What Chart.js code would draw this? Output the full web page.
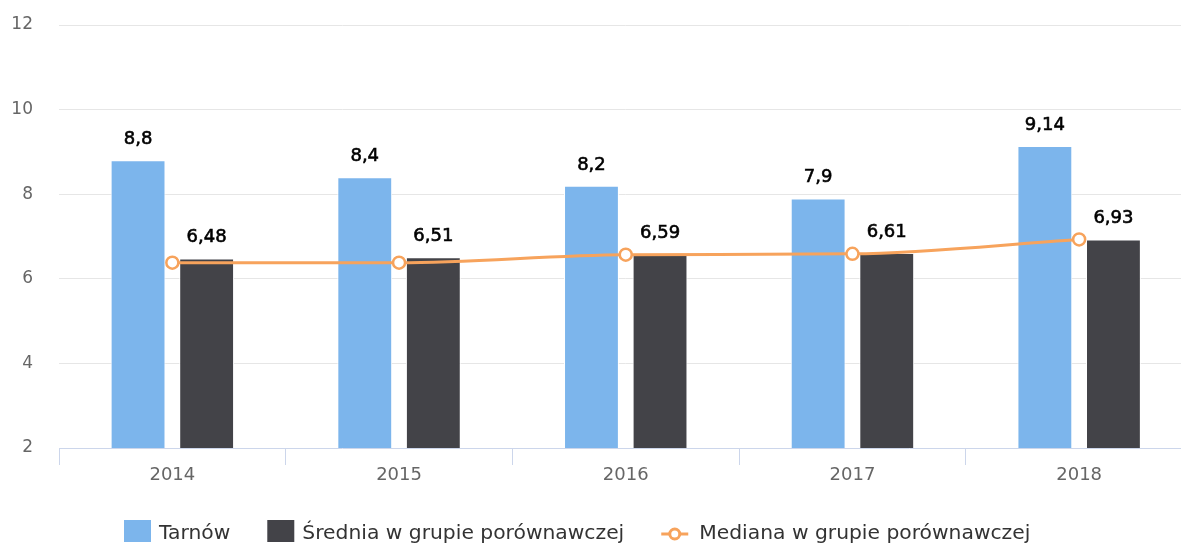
<!DOCTYPE html>
<html><head><meta charset="utf-8">
<script src="https://cdn.jsdelivr.net/npm/chart.js@4.4.0/dist/chart.umd.min.js"></script>
<style>html,body{margin:0;padding:0;overflow:hidden;background:#fff;} canvas{display:block;}</style>
</head><body>
<canvas id="c" width="1201" height="544" style="width:1201px;height:544px"></canvas>
<script>
const categories = ['2014', '2015', '2016', '2017', '2018'];
const tarnow = [8.8, 8.4, 8.2, 7.9, 9.14];
const srednia = [6.48, 6.51, 6.59, 6.61, 6.93];
const mediana = [6.38, 6.38, 6.57, 6.59, 6.93];
const seriesNames = ['Tarnów', 'Średnia w grupie porównawczej', 'Mediana w grupie porównawczej'];
const yTicks = [2, 4, 6, 8, 10, 12];

const COLORS = ['#7cb5ec', '#434348', '#f7a35c'];
const FONT = '"DejaVu Sans", Verdana, sans-serif';
const fmt = v => String(v).replace('.', ',');

const barLabels = {
  id: 'barLabels',
  afterDatasetsDraw(chart) {
    const ctx = chart.ctx;
    ctx.save();
    ctx.font = '18px ' + FONT;
    ctx.fillStyle = '#000';
    ctx.strokeStyle = '#000';
    ctx.lineWidth = 0.6;
    ctx.textAlign = 'center';
    ctx.textBaseline = 'alphabetic';
    [0, 1].forEach(i => {
      const meta = chart.getDatasetMeta(i);
      meta.data.forEach((el, j) => {
        const t = fmt(chart.data.datasets[i].data[j]);
        ctx.fillText(t, el.x, el.y - 16);
        ctx.strokeText(t, el.x, el.y - 16);
      });
    });
    ctx.restore();
  }
};

const customLegend = {
  id: 'customLegend',
  afterDraw(chart) {
    const ctx = chart.ctx;
    ctx.save();
    ctx.font = '20.3px ' + FONT;
    ctx.textBaseline = 'alphabetic';
    ctx.textAlign = 'left';
    let x = 124;
    const boxW = 27, boxH = 22, boxY = 520, textY = 539;
    seriesNames.forEach((name, i) => {
      if (i < 2) {
        ctx.fillStyle = COLORS[i];
        ctx.fillRect(x, boxY, boxW, boxH);
        x += boxW + 8;
      } else {
        const cy = 534;
        ctx.strokeStyle = COLORS[2];
        ctx.lineWidth = 3;
        ctx.beginPath(); ctx.moveTo(x, cy); ctx.lineTo(x + 27, cy); ctx.stroke();
        ctx.beginPath(); ctx.arc(x + 13.5, cy, 5, 0, Math.PI * 2);
        ctx.fillStyle = '#fff'; ctx.fill(); ctx.stroke();
        x += 27 + 11;
      }
      ctx.fillStyle = '#333';
      ctx.fillText(name, x, textY);
      x += ctx.measureText(name).width + 37;
    });
    ctx.restore();
  }
};

new Chart(document.getElementById('c'), {
  data: {
    labels: categories,
    datasets: [
      { type: 'bar', label: seriesNames[0], data: tarnow, backgroundColor: COLORS[0],
        borderColor: '#fff', borderWidth: 1, borderSkipped: false, order: 1,
        categoryPercentage: 0.605, barPercentage: 0.8 },
      { type: 'bar', label: seriesNames[1], data: srednia, backgroundColor: COLORS[1],
        borderColor: '#fff', borderWidth: 1, borderSkipped: false, order: 1,
        categoryPercentage: 0.605, barPercentage: 0.8 },
      { type: 'line', label: seriesNames[2], data: mediana, borderColor: COLORS[2],
        borderWidth: 3, pointRadius: 6, pointBorderWidth: 2.5, pointBackgroundColor: '#fff',
        pointBorderColor: COLORS[2], cubicInterpolationMode: 'monotone', fill: false, order: 0 }
    ]
  },
  options: {
    responsive: false,
    animation: false,
    events: [],
    layout: { padding: { top: 25, left: 0, right: 0, bottom: 0 } },
    plugins: { legend: { display: false }, tooltip: { enabled: false } },
    scales: {
      x: {
        type: 'category',
        offset: true,
        grid: { offset: true, drawOnChartArea: false, drawTicks: true, tickLength: 17, color: '#ccd6eb' },
        border: { display: true, color: '#ccd6eb', width: 1 },
        ticks: { font: { family: FONT, size: 18 }, color: '#666', padding: 0, maxRotation: 0 },
        afterFit: s => { s.height = 96; }
      },
      y: {
        min: 2, max: 12,
        afterBuildTicks: s => { s.ticks = yTicks.map(v => ({ value: v })); },
        grid: { drawTicks: false, color: c => (c.tick && c.tick.value === 2) ? 'rgba(0,0,0,0)' : '#e6e6e6' },
        border: { display: false },
        ticks: { font: { family: FONT, size: 17 }, color: '#666', padding: 26 },
        afterFit: s => { s.width = 59; s.paddingTop = 0; s.paddingBottom = 0; }
      }
    }
  },
  plugins: [barLabels, customLegend]
});
</script>
</body></html>
